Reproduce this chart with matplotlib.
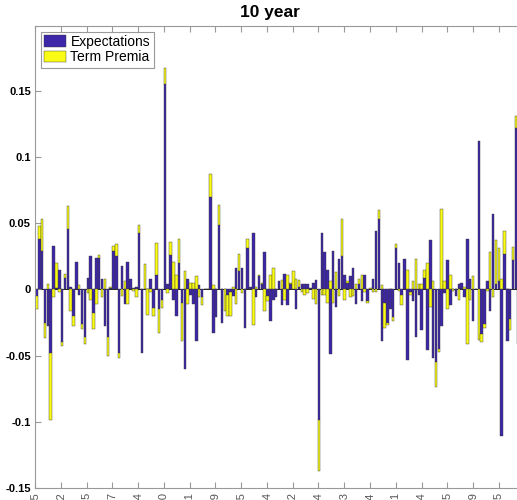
import numpy as np
import matplotlib.pyplot as plt

# bar values (decomposition of the 10 year yield change)
expectations = [
    -0.005, 0.038, 0.029, -0.025, -0.028, -0.048, 0.033, 0.001, 0.015, -0.040,
    0.009, 0.046, 0.002, -0.020, 0.021, -0.004, -0.026, -0.036, 0.009, 0.025,
    -0.018, 0.024, 0.024, 0.008, -0.028, -0.036, 0.001, 0.029, 0.025, -0.048,
    0.018, -0.011, 0.021, 0.008, 0.001, 0.002, 0.043, -0.048, 0.000, 0.000,
    0.008, -0.014, 0.011, -0.015, -0.008, 0.155, 0.004, 0.026, -0.008, -0.020,
    0.020, -0.010, -0.060, 0.008, -0.004, -0.011, -0.039, 0.003, -0.006, 0.000,
    0.000, 0.070, -0.033, -0.021, 0.049, -0.025, 0.000, -0.004, -0.002, -0.005,
    0.016, 0.014, 0.016, -0.029, 0.031, 0.002, 0.043, -0.006, 0.010, 0.004,
    0.028, -0.005, -0.024, -0.008, -0.006, 0.006, -0.012, 0.012, -0.012, 0.004,
    0.000, -0.015, 0.002, 0.004, 0.004, 0.004, 0.001, 0.005, 0.007, -0.099,
    0.043, 0.028, 0.015, -0.049, 0.029, -0.013, 0.023, 0.025, 0.011, 0.005,
    0.010, 0.016, -0.011, 0.004, -0.009, 0.011, -0.009, 0.000, 0.008, 0.044,
    0.053, -0.039, -0.010, -0.025, -0.015, -0.021, 0.031, 0.020, -0.004, 0.023,
    -0.053, -0.002, -0.009, -0.036, -0.004, -0.031, 0.009, -0.046, 0.037, -0.052,
    -0.055, -0.045, -0.028, -0.003, 0.022, -0.012, 0.000, -0.005, 0.004, 0.005,
    -0.006, 0.038, 0.008, -0.024, 0.000, 0.112, -0.034, -0.026, 0.006, -0.016,
    0.057, 0.004, 0.006, -0.111, 0.027, -0.039, -0.022, 0.022, 0.122, -0.041,
]
term_premia = [
    -0.010, 0.010, 0.024, -0.012, 0.004, -0.051, -0.006, 0.019, -0.002, -0.003,
    0.003, 0.017, -0.016, -0.008, 0.000, 0.003, -0.004, -0.005, -0.003, -0.008,
    -0.012, -0.011, 0.002, -0.006, 0.008, -0.014, 0.001, 0.004, 0.009, -0.004,
    -0.005, 0.006, -0.011, 0.000, -0.001, -0.006, 0.006, 0.000, 0.019, -0.019,
    -0.002, -0.006, 0.024, -0.018, -0.006, 0.012, -0.003, 0.010, 0.021, 0.011,
    0.018, -0.029, 0.014, -0.011, 0.005, 0.005, 0.010, -0.006, -0.006, 0.000,
    0.000, 0.017, 0.003, 0.000, 0.015, 0.000, -0.016, -0.016, -0.018, 0.002,
    -0.011, 0.013, -0.003, 0.000, 0.007, 0.000, -0.027, 0.002, 0.001, 0.001,
    -0.016, -0.004, 0.011, 0.016, 0.000, 0.000, 0.007, -0.008, 0.011, 0.001,
    0.014, 0.008, 0.005, -0.002, -0.004, -0.003, 0.000, -0.007, -0.011, -0.038,
    -0.004, -0.004, -0.010, 0.006, -0.010, 0.013, -0.005, 0.028, -0.008, 0.001,
    -0.006, -0.005, 0.004, 0.004, 0.011, -0.002, -0.001, 0.001, -0.002, -0.002,
    0.007, 0.003, -0.019, -0.002, 0.000, -0.003, 0.003, -0.001, -0.008, 0.000,
    0.015, -0.002, 0.006, 0.023, 0.004, 0.004, 0.006, 0.020, -0.013, 0.006,
    -0.019, -0.002, 0.061, 0.006, -0.015, 0.011, -0.001, 0.000, -0.008, 0.000,
    0.002, -0.041, -0.008, 0.010, 0.000, -0.038, -0.006, -0.003, -0.001, 0.028,
    -0.006, 0.033, 0.025, 0.008, 0.017, 0.000, -0.009, 0.010, 0.009, 0.014,
]
tick_labels = [
    '1994-02-05', '1995-07-02', '1996-11-15', '1998-03-27', '1999-08-24',
    '2000-12-20', '2002-05-01', '2003-09-29', '2005-01-15', '2006-06-14',
    '2007-10-22', '2009-03-04', '2010-07-13', '2011-12-14', '2013-04-21',
    '2014-09-04', '2016-01-15', '2017-05-29', '2018-10-15', '2020-02-18',
]
y_ticks = [-0.15, -0.1, -0.05, 0, 0.05, 0.1, 0.15]
y_tick_labels = ['-0.15', '-0.1', '-0.05', '0', '0.05', '0.1', '0.15']

blue = (0.2422, 0.1504, 0.6603)
yellow = (0.9769, 0.9839, 0.0805)

plt.rcParams['font.family'] = ['Liberation Sans', 'DejaVu Sans']

ex = np.array(expectations)
tp = np.array(term_premia)
n = len(ex)
pos = np.arange(1, n + 1)
# stacked like matlab: same sign stacks on top, opposite sign starts at zero
bottom = np.where(np.sign(tp) == np.sign(ex), ex, 0.0)

pitch = 2.854  # pixels per bar
fig = plt.figure(figsize=(5.17, 5.0), dpi=100)
ax = fig.add_axes([35 / 517, 12 / 500, (n + 4.5) * pitch / 517, 462 / 500])

ax.axhline(0, color='#202020', lw=0.7, zorder=1)
ax.bar(pos, ex, width=0.88, color=blue, edgecolor='#3a3a3a', linewidth=0.3,
       label='Expectations', zorder=2)
ax.bar(pos, tp, width=0.88, bottom=bottom, color=yellow, edgecolor='#3a3a3a',
       linewidth=0.3, label='Term Premia', zorder=2)

ax.set_xlim(0.5, n + 5)
ax.set_ylim(-0.15, 0.199)
xt = np.arange(0.5, n + 5, 9.03)
ax.set_xticks(xt)
ax.set_xticklabels(tick_labels[:len(xt)], rotation=90, fontsize=8,
                   color='#555555')
ax.set_yticks(y_ticks)
ax.set_yticklabels(y_tick_labels, fontsize=8, fontweight='bold')
ax.tick_params(direction='in', length=4, top=True, right=True,
               color='#999999', pad=3)
for s in ax.spines.values():
    s.set_color('#999999')
    s.set_linewidth(0.8)

leg = ax.legend(loc='upper left', fontsize=10, fancybox=False,
                edgecolor='#999999', framealpha=1, handlelength=1.6,
                handleheight=0.9, borderaxespad=0.4, borderpad=0.25,
                labelspacing=0.1, handletextpad=0.3)
leg.get_frame().set_linewidth(0.8)

fig.text(270 / 517, 1 - 12 / 500, '10 year', ha='center', va='center',
         fontsize=12.5, fontweight='bold')

fig.savefig('out.png', dpi=100)
